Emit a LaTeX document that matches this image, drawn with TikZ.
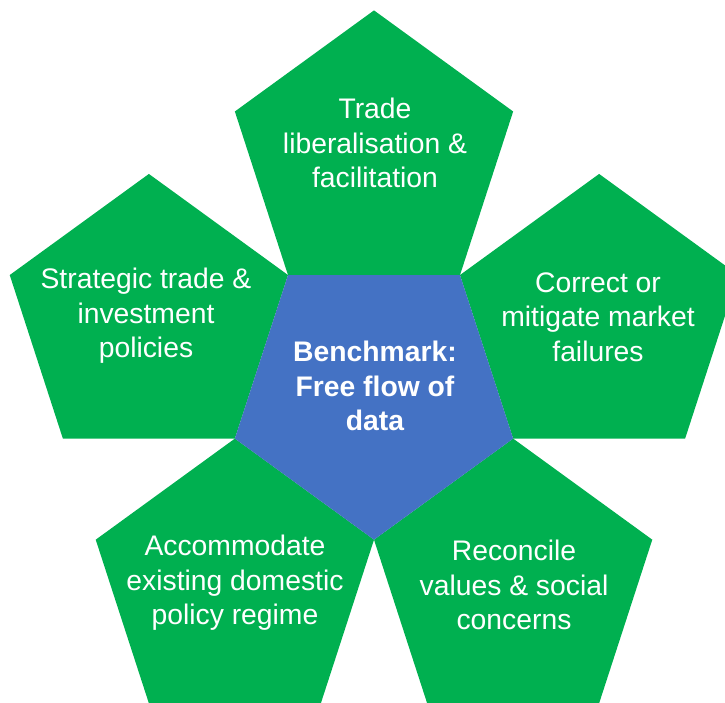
\documentclass[tikz,border=0pt]{standalone}
\usepackage{fontspec}
\setmainfont{Liberation Sans}
\usetikzlibrary{calc}
\definecolor{petal}{HTML}{00B050}
\definecolor{core}{HTML}{4472C4}
% circumradius of every pentagon
\def\prad{146.3}
% regular pentagon around a named centre: #1 centre, #2 angle of first vertex, #3 colour
\newcommand\pentagonfill[3]{%
  \fill[#3] ($(#1)+(#2:\prad)$)
    \foreach \k in {1,...,4}{ -- ($(#1)+(#2+72*\k:\prad)$) } -- cycle;}
\begin{document}
\begin{tikzpicture}[x=1pt,y=1pt,
  lbl/.style={text=white, align=center, inner sep=0pt,
              font=\fontsize{28.3}{34.5}\selectfont}]
\useasboundingbox (0,0) rectangle (725,702);
\clip (0,0) rectangle (725,702);
% centre of the hub and of the five petals (twice the apothem away)
\coordinate (c) at (374,308.6);
\foreach \n/\a in {pt/90, pl/162, pr/18, pbl/234, pbr/306}
  \coordinate (\n) at ($(c)+(\a:236.7)$);
% petals point up, the hub points down
\foreach \n in {pt, pl, pr, pbl, pbr}
  \pentagonfill{\n}{90}{petal};
\pentagonfill{c}{270}{core};
% labels
\node[lbl] (ltop) at (375,559) {Trade\\liberalisation \&\\facilitation};
\node[lbl] (lleft) at (146,386) {Strategic trade \&\\investment\\policies};
\node[lbl] (lright) at (598,385) {Correct or\\mitigate market\\failures};
\node[lbl] (lbl) at (235,119) {Accommodate\\existing domestic\\policy regime};
\node[lbl] (lbr) at (514,117) {Reconcile\\values \& social\\concerns};
\node[lbl, font=\fontsize{28.3}{34.5}\selectfont\bfseries] (lhub) at (375,316)
  {Benchmark:\\Free flow of\\data};
\end{tikzpicture}
\end{document}
